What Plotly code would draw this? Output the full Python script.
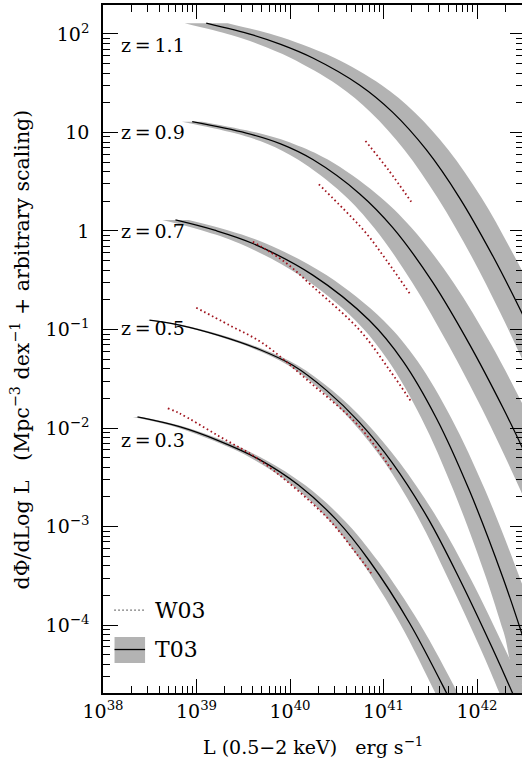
import plotly.graph_objects as go

FONT = "DejaVu Serif"
BAND = "#b3b3b3"
RED = "#a0141e"

# ---------------- T03 curves (log10 L [erg/s], log10 dPhi/dlogL incl. arbitrary scaling)
z03_logL = [38.369, 38.818, 39.246, 39.674, 40.090, 40.497, 40.850, 41.278, 41.687, 41.900]
z03_logphi = [-1.888, -1.987, -2.133, -2.321, -2.579, -2.933, -3.350, -3.979, -4.715, -5.130]
z03_hw = [0.05, 0.05, 0.055, 0.06, 0.07, 0.08, 0.09, 0.105, 0.12, 0.12]

z05_logL = [38.497, 38.818, 39.246, 39.674, 40.030, 40.390, 40.743, 41.096, 41.474, 41.813, 42.166, 42.383, 42.560]
z05_logphi = [-0.904, -0.955, -1.062, -1.203, -1.363, -1.618, -1.943, -2.356, -2.915, -3.532, -4.238, -4.698, -5.096]
z05_hw = [0.03, 0.035, 0.04, 0.045, 0.05, 0.06, 0.07, 0.08, 0.10, 0.12, 0.13, 0.14, 0.15]

z07_logL = [38.775, 39.193, 39.602, 40.244, 40.850, 41.206, 41.564, 41.920, 42.276, 42.476, 42.650]
z07_logphi = [0.112, 0.008, -0.127, -0.448, -0.909, -1.318, -1.898, -2.638, -3.517, -4.077, -4.599]
z07_hw = [0.14, 0.14, 0.14, 0.145, 0.15, 0.155, 0.16, 0.17, 0.18, 0.19, 0.19]

z09_logL = [38.954, 39.532, 39.900, 40.244, 40.743, 41.099, 41.527, 41.920, 42.276, 42.476, 42.700, 42.950]
z09_logphi = [1.110, 0.994, 0.884, 0.725, 0.379, 0.034, -0.522, -1.151, -1.792, -2.182, -2.641, -3.178]
z09_hw = [0.11, 0.13, 0.14, 0.16, 0.18, 0.20, 0.22, 0.23, 0.23, 0.23, 0.23, 0.23]

z11_logL = [39.104, 39.600, 39.900, 40.244, 40.743, 41.099, 41.457, 41.813, 42.169, 42.476, 42.700, 42.900]
z11_logphi = [2.109, 1.990, 1.894, 1.756, 1.482, 1.204, 0.825, 0.337, -0.254, -0.825, -1.273, -1.697]
z11_hw = [0.23, 0.23, 0.23, 0.235, 0.235, 0.235, 0.235, 0.235, 0.23, 0.23, 0.23, 0.23]

# ---------------- W03 curves
w03_z03_logL = [38.693, 38.818, 39.246, 39.674, 40.387, 40.708, 40.868]
w03_z03_logphi = [-1.800, -1.851, -2.086, -2.325, -2.901, -3.272, -3.475]
w03_z05_logL = [38.997, 39.353, 39.709, 40.209, 40.743, 41.099]
w03_z05_logphi = [-0.779, -0.957, -1.140, -1.533, -1.987, -2.444]
w03_z07_logL = [39.602, 39.941, 40.244, 40.743, 41.064, 41.296]
w03_z07_logphi = [-0.109, -0.312, -0.565, -1.005, -1.411, -1.733]
w03_z09_logL = [40.308, 40.583, 40.815, 41.029, 41.296]
w03_z09_logphi = [0.474, 0.213, -0.023, -0.294, -0.657]
w03_z11_logL = [40.807, 41.053, 41.296]
w03_z11_logphi = [0.914, 0.619, 0.297]

# ---------------- labels
z_labels = ["z\u2009=\u20091.1", "z\u2009=\u20090.9", "z\u2009=\u20090.7", "z\u2009=\u20090.5", "z\u2009=\u20090.3"]
z_label_logphi = [1.888, 1.005, 0.0, -0.985, -2.122]
z_label_logL = 38.176

x_major = [38, 39, 40, 41, 42]
x_major_text = ["10<sup>38</sup>", "10<sup>39</sup>", "10<sup>40</sup>", "10<sup>41</sup>", "10<sup>42</sup>"]
y_major = [-4, -3, -2, -1, 0, 1, 2]
y_major_text = ["10<sup>\u22124</sup>", "10<sup>\u22123</sup>", "10<sup>\u22122</sup>", "10<sup>\u22121</sup>", "1", "10", "10<sup>2</sup>"]

XR = [38.0, 42.481]
YR = [-4.69, 2.294]

fig = go.Figure()

t03 = [(z03_logL, z03_logphi, z03_hw), (z05_logL, z05_logphi, z05_hw), (z07_logL, z07_logphi, z07_hw),
       (z09_logL, z09_logphi, z09_hw), (z11_logL, z11_logphi, z11_hw)]
for logL, logphi, hw in t03:
    xu = [10.0 ** (a + h) for a, h in zip(logL, hw)]
    xl = [10.0 ** (a - h) for a, h in zip(logL, hw)]
    y = [10.0 ** p for p in logphi]
    fig.add_trace(go.Scatter(x=xu + xl[::-1], y=y + y[::-1], mode="lines", fill="toself",
                             fillcolor=BAND, line=dict(width=0, color=BAND, shape="spline", smoothing=1.0),
                             hoverinfo="skip", showlegend=False))
for logL, logphi, hw in t03:
    fig.add_trace(go.Scatter(x=[10.0 ** a for a in logL], y=[10.0 ** p for p in logphi], mode="lines",
                             line=dict(color="black", width=1.3, shape="spline", smoothing=1.0),
                             hoverinfo="skip", showlegend=False))

w03 = [(w03_z03_logL, w03_z03_logphi), (w03_z05_logL, w03_z05_logphi), (w03_z07_logL, w03_z07_logphi),
       (w03_z09_logL, w03_z09_logphi), (w03_z11_logL, w03_z11_logphi)]
for logL, logphi in w03:
    fig.add_trace(go.Scatter(x=[10.0 ** a for a in logL], y=[10.0 ** p for p in logphi], mode="lines",
                             line=dict(color=RED, width=1.8, dash="1.6px,2.8px", shape="spline"),
                             hoverinfo="skip", showlegend=False))

# dummy traces so the overlay tick axes exist
for ya in ["y2", "y3", "y4"]:
    fig.add_trace(go.Scatter(x=[1e40], y=[1.0], xaxis="x2", yaxis=ya, mode="markers",
                             marker=dict(opacity=0), hoverinfo="skip", showlegend=False))

x_minor = [k * 10.0 ** n for n in range(38, 43) for k in range(2, 10)]
y_minor = [k * 10.0 ** n for n in range(-5, 3) for k in range(2, 10)]

common = dict(type="log", showgrid=False, zeroline=False, tickcolor="black", tickwidth=1.2)
fig.update_layout(
    width=522, height=762,
    margin=dict(l=103, r=0, t=5, b=69, pad=0),
    paper_bgcolor="white", plot_bgcolor="white", showlegend=False,
    font=dict(family=FONT, size=19, color="black"),
    xaxis=dict(**common, range=XR, tickvals=[10.0 ** v for v in x_major], ticktext=x_major_text,
               ticks="inside", ticklen=14, showline=True, linecolor="black", linewidth=1.6, mirror="ticks",
               tickfont=dict(family=FONT, size=19, color="black")),
    xaxis2=dict(**common, range=XR, overlaying="x", anchor="y", side="bottom", tickvals=x_minor,
                ticks="inside", ticklen=7, showticklabels=False, showline=False, mirror="ticks"),
    yaxis=dict(**common, range=YR, tickvals=[10.0 ** v for v in y_major], ticktext=y_major_text,
               ticks="inside", ticklen=15, showline=True, linecolor="black", linewidth=1.6,
               tickfont=dict(family=FONT, size=19, color="black"), ticklabelstandoff=8),
    yaxis2=dict(**common, range=YR, overlaying="y", anchor="x2", side="right", tickvals=[10.0 ** v for v in y_major],
                ticks="inside", ticklen=12, showticklabels=False, showline=False),
    yaxis3=dict(**common, range=YR, overlaying="y", anchor="x2", side="left", tickvals=y_minor,
                ticks="inside", ticklen=7, showticklabels=False, showline=False),
    yaxis4=dict(**common, range=YR, overlaying="y", anchor="x2", side="right", tickvals=y_minor,
                ticks="inside", ticklen=6, showticklabels=False, showline=False),
)

annotations = []
for txt, yv in zip(z_labels, z_label_logphi):
    annotations.append(dict(x=z_label_logL, y=yv, xref="x", yref="y", text=txt, showarrow=False,
                            xanchor="left", yanchor="middle", font=dict(family=FONT, size=19, color="black")))
annotations.append(dict(x=0.5, y=-0.077, xref="paper", yref="paper", showarrow=False,
                        text="L (0.5\u22122 keV)\u00a0\u00a0\u00a0erg s<sup>\u22121</sup>",
                        xanchor="center", yanchor="middle", font=dict(family=FONT, size=19, color="black")))
annotations.append(dict(x=-0.197, y=0.5, xref="paper", yref="paper", showarrow=False, textangle=-90,
                        text="d\u03a6/dLog L\u00a0\u00a0\u00a0(Mpc<sup>\u22123</sup> dex<sup>\u22121</sup> + arbitrary scaling)",
                        xanchor="center", yanchor="middle", font=dict(family=FONT, size=20.5, color="black")))
# legend
annotations.append(dict(x=0.1183, y=0.1206, xref="paper", yref="paper", showarrow=False, text="W03",
                        xanchor="left", yanchor="middle", font=dict(family=FONT, size=22, color="black")))
annotations.append(dict(x=0.1183, y=0.0632, xref="paper", yref="paper", showarrow=False, text="T03",
                        xanchor="left", yanchor="middle", font=dict(family=FONT, size=22, color="black")))
fig.update_layout(annotations=annotations)

fig.update_layout(shapes=[
    dict(type="line", xref="paper", yref="paper", x0=0.0275, x1=0.0992, y0=0.1206, y1=0.1206,
         line=dict(color="black", width=1.3, dash="1px,3px")),
    dict(type="rect", xref="paper", yref="paper", x0=0.0275, x1=0.1004, y0=0.0436, y1=0.0814,
         line=dict(width=0), fillcolor=BAND),
    dict(type="line", xref="paper", yref="paper", x0=0.0275, x1=0.1004, y0=0.0632, y1=0.0632,
         line=dict(color="black", width=1.3)),
])

fig.write_html("out.html")
